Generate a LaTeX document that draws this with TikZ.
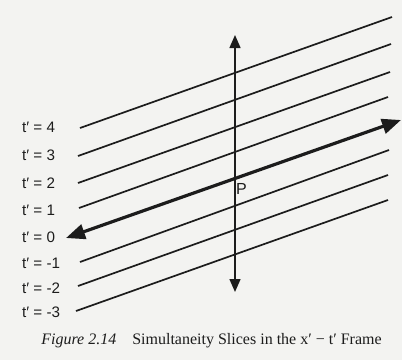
\documentclass[tikz,border=0pt]{standalone}
\usepackage{fontspec}
\setmainfont{Liberation Serif}
\newfontfamily\labelfont{Liberation Sans}
\usetikzlibrary{arrows.meta}

\definecolor{paper}{RGB}{243,243,241}
\definecolor{ink}{RGB}{28,28,28}

\begin{document}
\begin{tikzpicture}[
  x=1pt,
  y=-1pt,
  slice/.style={draw=ink, line width=1.7pt},
  frameaxis/.style={
    draw=ink,
    line width=3.2pt,
    {Triangle[length=19pt, width=15pt]}-{Triangle[length=19pt, width=15pt]}
  },
  timeaxis/.style={
    draw=ink,
    line width=1.4pt,
    {Triangle[length=13pt, width=11pt]}-{Triangle[length=13pt, width=11pt]}
  },
  tlabel/.style={font=\labelfont\fontsize{15.2}{17}\selectfont, text=ink, anchor=west, inner sep=0pt},
  caption/.style={font=\fontsize{16}{18}\selectfont, text=ink, inner sep=0pt}
]

\path[fill=paper] (0,0) rectangle (402,360);
\useasboundingbox (0,0) rectangle (402,360);

% ---------------------------------------------------------------------------
% simultaneity slices t' = const
% ---------------------------------------------------------------------------
\foreach \t/\xl/\yl/\xr/\yr in {4/80/128/392/17, 3/78/156/391/44,
    2/78/183/390/72, 1/79/208/388/97, -1/80/262/389/150,
    -2/78/286/388/175, -3/76/311/388/200} {
  \coordinate (sl\t) at (\xl,\yl);
  \coordinate (sr\t) at (\xr,\yr);
  \draw[slice] (sl\t) -- (sr\t);
}

% x' axis (t' = 0) and time axis
\coordinate (xneg) at (66,238);
\coordinate (xpos) at (401,120);
\draw[frameaxis] (xneg) -- (xpos);

\coordinate (tbot) at (235,292);
\coordinate (ttop) at (235,35);
\draw[timeaxis] (tbot) -- (ttop);

\node[font=\labelfont\fontsize{16}{18}\selectfont, text=ink] (p) at (241.5,188.5) {P};

% ---------------------------------------------------------------------------
% labels
% ---------------------------------------------------------------------------
\foreach \t/\y in {4/127, 3/155, 2/183, 1/210, 0/237, -1/263, -2/288, -3/312} {
  \node[tlabel] (lab\t) at (22,\y) {t′ = \t};
}

\node[caption] (cap) at (211.5,341)
  {\textit{Figure 2.14}\quad Simultaneity Slices in the x′ − t′ Frame};
\end{tikzpicture}
\end{document}
